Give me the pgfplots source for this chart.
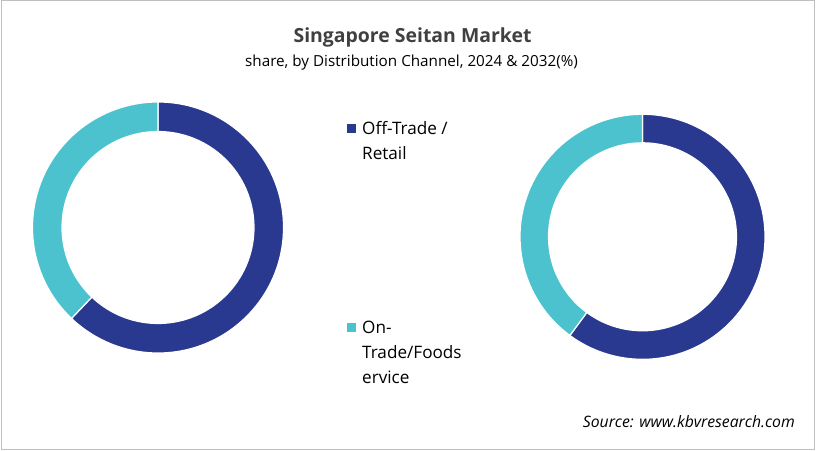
\documentclass[border=0pt]{standalone}
\usepackage{fontspec}
\setmainfont{Open Sans}
\usepackage{pgfplots}
\usepackage{pgfplotstable}
\pgfplotsset{compat=1.18}

\definecolor{offcol}{RGB}{42,57,144}
\definecolor{oncol}{RGB}{76,194,206}
\definecolor{titlegray}{RGB}{64,64,64}
\definecolor{framegray}{RGB}{191,191,191}

% share by distribution channel (%)
\pgfplotstableread{
channel y2024 y2032
Off 62.1 60.1
On  37.9 39.9
}\sharedata

\begin{document}
\begin{tikzpicture}
  \path[use as bounding box] (0,0) rectangle (816bp,-451bp);
  \draw[framegray, line width=1bp] (1.5bp,-0.5bp) rectangle (814.5bp,-449.5bp);

  \node[anchor=base, font=\bfseries\fontsize{19.5}{22}\selectfont, text=titlegray]
    at (412.5bp,-42.7bp) {Singapore Seitan Market};
  \node[anchor=base, font=\fontsize{15.3}{18}\selectfont]
    at (411.5bp,-66.7bp) {share, by Distribution Channel, 2024 \& 2032(\%)};

  % 2024 donut
  \pgfplotstablegetelem{0}{y2024}\of\sharedata
  \pgfmathsetmacro\cutA{90-3.6*\pgfplotsretval}
  \begin{axis}[
    x=1bp, y=1bp,
    xmin=-130, xmax=130, ymin=-130, ymax=130,
    hide axis, clip=false,
    anchor=center, at={(158bp,-227.5bp)},
  ]
    \path[fill=offcol, draw=white, line width=1.2bp]
      (axis cs:0,125.5) arc[start angle=90, end angle=\cutA, radius=125.5bp]
      -- (axis cs:{96*cos(\cutA)},{96*sin(\cutA)})
      arc[start angle=\cutA, end angle=90, radius=96bp] -- cycle;
    \path[fill=oncol, draw=white, line width=1.2bp]
      (axis cs:{125.5*cos(\cutA)},{125.5*sin(\cutA)})
      arc[start angle=\cutA, end angle=-270, radius=125.5bp]
      -- (axis cs:0,96)
      arc[start angle=90, end angle=\cutA+360, radius=96bp] -- cycle;
  \end{axis}

  % 2032 donut
  \pgfplotstablegetelem{0}{y2032}\of\sharedata
  \pgfmathsetmacro\cutB{90-3.6*\pgfplotsretval}
  \begin{axis}[
    x=1bp, y=1bp,
    xmin=-130, xmax=130, ymin=-130, ymax=130,
    hide axis, clip=false,
    anchor=center, at={(642.5bp,-236.8bp)},
  ]
    \path[fill=offcol, draw=white, line width=1.2bp]
      (axis cs:0,122.5) arc[start angle=90, end angle=\cutB, radius=122.5bp]
      -- (axis cs:{94*cos(\cutB)},{94*sin(\cutB)})
      arc[start angle=\cutB, end angle=90, radius=94bp] -- cycle;
    \path[fill=oncol, draw=white, line width=1.2bp]
      (axis cs:{122.5*cos(\cutB)},{122.5*sin(\cutB)})
      arc[start angle=\cutB, end angle=-270, radius=122.5bp]
      -- (axis cs:0,94)
      arc[start angle=90, end angle=\cutB+360, radius=94bp] -- cycle;
  \end{axis}

  % legend
  \fill[offcol] (346.5bp,-123.8bp) rectangle (355.5bp,-132.8bp);
  \fill[oncol]  (346.5bp,-323.3bp) rectangle (355.5bp,-332.3bp);
  \begin{scope}[every node/.style={anchor=base west, inner sep=0pt,
      font=\fontsize{17.2}{20}\selectfont}]
    \node at (362bp,-134.3bp) {Off-Trade /};
    \node at (362bp,-159.3bp) {Retail};
    \node at (362bp,-333.3bp) {On-};
    \node at (362bp,-358.3bp) {Trade/Foods};
    \node at (362bp,-383.3bp) {ervice};
  \end{scope}

  \node[anchor=base east, inner sep=0pt, font=\itshape\fontsize{15.8}{19}\selectfont]
    at (795bp,-427bp) {Source: www.kbvresearch.com};
\end{tikzpicture}
\end{document}
